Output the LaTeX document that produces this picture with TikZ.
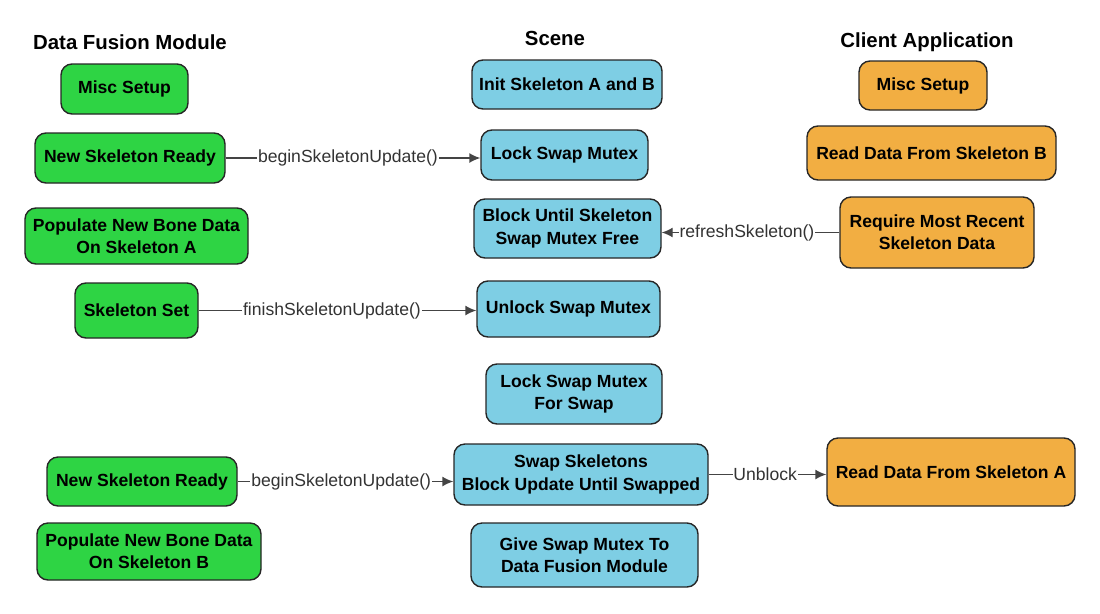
\documentclass[tikz,border=0pt]{standalone}
\usepackage{fontspec}
\setmainfont{Liberation Sans}
\usetikzlibrary{arrows.meta,positioning}
\definecolor{fusgreen}{RGB}{46,212,68}
\definecolor{scnblue}{RGB}{126,206,228}
\definecolor{cliorange}{RGB}{242,174,66}
\definecolor{linegray}{RGB}{68,68,68}
\tikzset{
  box/.style={draw=black!85, line width=0.8pt, rounded corners=0.22cm, align=center,
    font=\fontsize{10}{12.6}\selectfont\bfseries, inner sep=2pt},
  fus/.style={box, fill=fusgreen},
  scn/.style={box, fill=scnblue},
  cli/.style={box, fill=cliorange},
  title/.style={font=\fontsize{11.6}{13}\selectfont\bfseries},
  call/.style={draw=linegray, line width=0.8pt, -{Latex[length=2.2mm,width=2mm]}},
  calltext/.style={fill=white, inner xsep=0.5pt, inner ysep=1.5pt, text=black!80, font=\fontsize{10}{12}\selectfont}
}
\begin{document}
\begin{tikzpicture}
\useasboundingbox (0,0) rectangle (22,-12.26);

\node[title] (tfus) at (2.6,-0.84) {Data Fusion Module};
\node[title] (tscn) at (11.1,-0.76) {Scene};
\node[title] (tcli) at (18.54,-0.84) {Client Application};

\node[fus, minimum width=2.54cm, minimum height=1cm] (misc1) at (2.49,-1.78) {Misc Setup};
\node[fus, minimum width=3.8cm, minimum height=1cm] (ready1) at (2.6,-3.16) {New Skeleton Ready};
\node[fus, minimum width=4.46cm, minimum height=1.12cm] (popA) at (2.73,-4.72) {Populate New Bone Data\\On Skeleton A};
\node[fus, minimum width=2.46cm, minimum height=1.1cm] (skset) at (2.73,-6.21) {Skeleton Set};
\node[fus, minimum width=3.8cm, minimum height=0.98cm] (ready2) at (2.84,-9.63) {New Skeleton Ready};
\node[fus, minimum width=4.48cm, minimum height=1.14cm] (popB) at (2.98,-11.03) {Populate New Bone Data\\On Skeleton B};

\node[scn, minimum width=3.8cm, minimum height=0.98cm] (init) at (11.34,-1.69) {Init Skeleton A and B};
\node[scn, minimum width=3.34cm, minimum height=1cm] (lock) at (11.29,-3.1) {Lock Swap Mutex};
\node[scn, minimum width=3.74cm, minimum height=1.18cm] (block) at (11.35,-4.57) {Block Until Skeleton\\Swap Mutex Free};
\node[scn, minimum width=3.66cm, minimum height=1.12cm] (unlock) at (11.37,-6.18) {Unlock Swap Mutex};
\node[scn, minimum width=3.52cm, minimum height=1.2cm] (lockswap) at (11.48,-7.88) {Lock Swap Mutex\\For Swap};
\node[scn, minimum width=5.08cm, minimum height=1.22cm] (swap) at (11.62,-9.49) {Swap Skeletons\\Block Update Until Swapped};
\node[scn, minimum width=4.54cm, minimum height=1.28cm] (give) at (11.69,-11.1) {Give Swap Mutex To\\Data Fusion Module};

\node[cli, minimum width=2.56cm, minimum height=0.98cm] (misc2) at (18.46,-1.71) {Misc Setup};
\node[cli, minimum width=4.98cm, minimum height=1.08cm] (readB) at (18.63,-3.06) {Read Data From Skeleton B};
\node[cli, minimum width=3.88cm, minimum height=1.42cm] (recent) at (18.74,-4.65) {Require Most Recent\\Skeleton Data};
\node[cli, minimum width=4.96cm, minimum height=1.36cm] (readA) at (19.02,-9.44) {Read Data From Skeleton A};

\draw[call] (ready1.east) -- (ready1.east -| lock.west) node[calltext, pos=0.48] {beginSkeletonUpdate()};
\draw[call] (recent.west) -- (recent.west -| block.east) node[calltext, pos=0.52] {refreshSkeleton()};
\draw[call] (skset.east) -- (skset.east -| unlock.west) node[calltext, pos=0.48] {finishSkeletonUpdate()};
\draw[call] (ready2.east) -- (ready2.east -| swap.west) node[calltext, pos=0.48] {beginSkeletonUpdate()};
\draw[call] (swap.east) -- (swap.east -| readA.west) node[calltext, pos=0.48] {Unblock};
\end{tikzpicture}
\end{document}
